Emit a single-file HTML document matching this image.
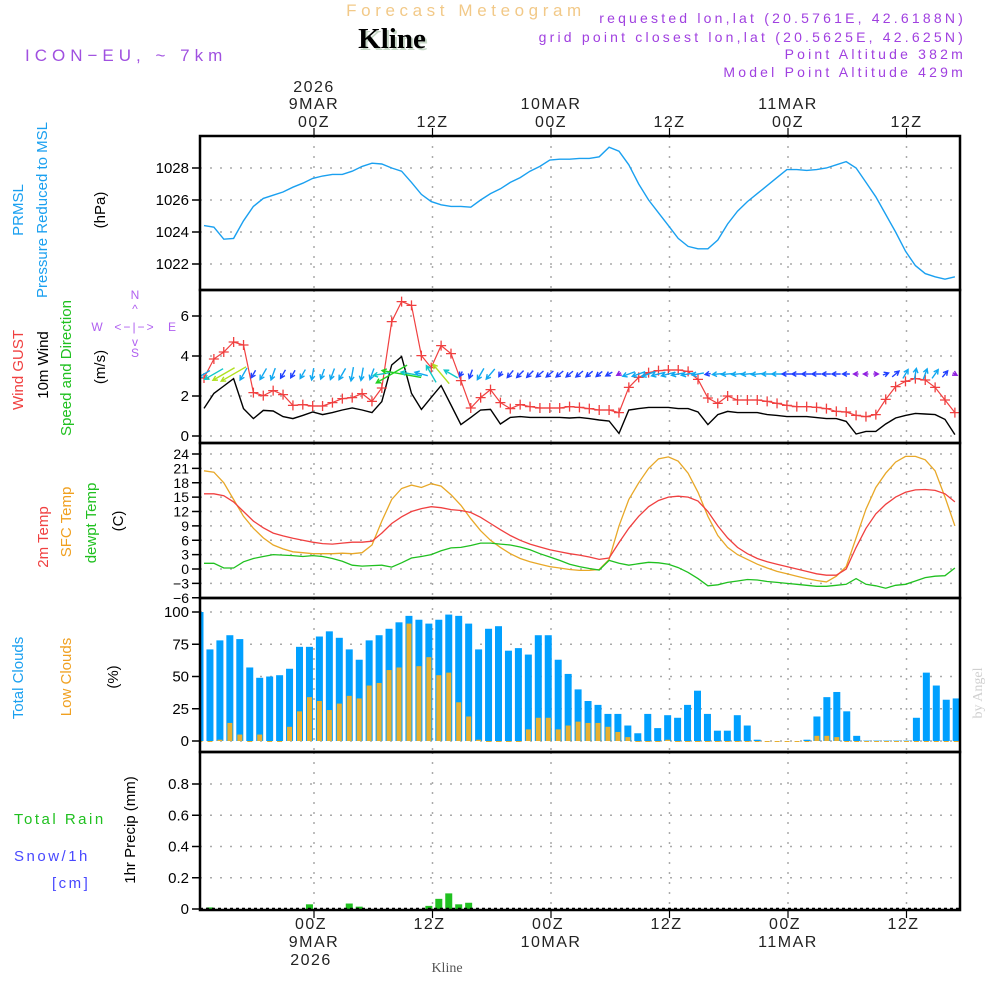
<!DOCTYPE html>
<html><head><meta charset="utf-8"><style>
html,body{margin:0;padding:0;background:#fff;}
svg{display:block;font-family:"Liberation Sans",sans-serif;}
</style></head><body>
<svg id="chart" width="1000" height="1000" viewBox="0 0 1000 1000" xmlns="http://www.w3.org/2000/svg">
<g>
<text x="466" y="16" text-anchor="middle" font-size="17" fill="#f2c988" letter-spacing="4.6">Forecast Meteogram</text>
<text x="394" y="50" text-anchor="middle" font-size="29" font-weight="bold" font-family="Liberation Serif,serif" fill="#c8d8c8">Kline</text>
<text x="392" y="48" text-anchor="middle" font-size="29" font-weight="bold" font-family="Liberation Serif,serif" fill="#000">Kline</text>
<text x="25" y="61" font-size="17" fill="#a050e0" letter-spacing="5">ICON−EU, ~ 7km</text>
<g font-size="14" fill="#a040e0" text-anchor="end" letter-spacing="3.2">
<text x="966" y="23">requested lon,lat (20.5761E, 42.6188N)</text>
<text x="966" y="42">grid point closest lon,lat (20.5625E, 42.625N)</text>
<text x="966" y="59">Point Altitude 382m</text>
<text x="966" y="77">Model Point Altitude 429m</text>
</g>
</g>
<g id="labels" font-size="15">
<text transform="translate(23,210) rotate(-90)" text-anchor="middle" fill="#1aa0f0">PRMSL</text>
<text transform="translate(47,210) rotate(-90)" text-anchor="middle" fill="#1aa0f0">Pressure Reduced to MSL</text>
<text transform="translate(105,210) rotate(-90)" text-anchor="middle" fill="#000">(hPa)</text>
<text transform="translate(23,370) rotate(-90)" text-anchor="middle" fill="#f04040">Wind GUST</text>
<text transform="translate(48,365) rotate(-90)" text-anchor="middle" fill="#000">10m Wind</text>
<text transform="translate(71,368) rotate(-90)" text-anchor="middle" fill="#20c020">Speed and Direction</text>
<text transform="translate(105,367) rotate(-90)" text-anchor="middle" fill="#000">(m/s)</text>
<text transform="translate(48,537) rotate(-90)" text-anchor="middle" fill="#f04040">2m Temp</text>
<text transform="translate(71,522) rotate(-90)" text-anchor="middle" fill="#f0a020">SFC Temp</text>
<text transform="translate(96,523) rotate(-90)" text-anchor="middle" fill="#20c020">dewpt Temp</text>
<text transform="translate(123,521) rotate(-90)" text-anchor="middle" fill="#000">(C)</text>
<text transform="translate(23,678) rotate(-90)" text-anchor="middle" fill="#1aa0f0">Total Clouds</text>
<text transform="translate(71,677) rotate(-90)" text-anchor="middle" fill="#f0a020">Low Clouds</text>
<text transform="translate(118,677) rotate(-90)" text-anchor="middle" fill="#000">(%)</text>
<text x="14" y="824" fill="#20c020" letter-spacing="2.5">Total   Rain</text>
<text x="14" y="861" fill="#4848ff" letter-spacing="2.5">Snow/1h</text>
<text x="52" y="888" fill="#4848ff" letter-spacing="2.5">[cm]</text>
<text transform="translate(135,830) rotate(-90)" text-anchor="middle" fill="#000">1hr Precip (mm)</text>
<g fill="#b060f0" font-size="12">
<text x="135" y="299" text-anchor="middle">N</text>
<text x="135" y="357" text-anchor="middle">S</text>
<text x="97" y="331" text-anchor="middle">W</text>
<text x="172" y="331" text-anchor="middle">E</text>
<text x="135" y="331" text-anchor="middle" letter-spacing="2">&lt;−|−&gt;</text>
<text x="135" y="313" text-anchor="middle">^</text>
<text x="135" y="346" text-anchor="middle">v</text>
</g>
<text transform="translate(982,693) rotate(-90)" text-anchor="middle" fill="#d0d0d0" font-family="Liberation Serif,serif" font-size="14">by Angel</text>
<text x="447" y="972" text-anchor="middle" fill="#555" font-family="Liberation Serif,serif" font-size="14">Kline</text>
</g>
<g id="plot"></g>
</svg>
<script>
const timeTicks = ["00Z","12Z","00Z","12Z","00Z","12Z"];
const timeTickHours = [0,12,24,36,48,60];
const dateLabels = ["9MAR","","10MAR","","11MAR",""];
const pressure = [1024.4,1024.3,1023.55,1023.6,1024.7,1025.6,1026.1,1026.3,1026.5,1026.8,1027.05,1027.35,1027.5,1027.6,1027.6,1027.8,1028.1,1028.3,1028.25,1028.0,1027.8,1027.1,1026.35,1025.9,1025.7,1025.6,1025.6,1025.55,1026.0,1026.4,1026.7,1027.1,1027.4,1027.8,1028.1,1028.5,1028.55,1028.55,1028.6,1028.6,1028.7,1029.3,1029.05,1028.2,1027.0,1026.0,1025.2,1024.4,1023.6,1023.1,1022.95,1022.95,1023.5,1024.5,1025.3,1025.9,1026.4,1026.9,1027.4,1027.9,1027.9,1027.85,1027.9,1028.0,1028.2,1028.4,1028.0,1027.1,1026.2,1025.1,1024.0,1022.8,1021.9,1021.4,1021.2,1021.05,1021.2];
const gust = [2.9,3.85,4.2,4.7,4.55,2.17,2.02,2.27,2.07,1.53,1.57,1.5,1.5,1.67,1.87,1.92,2.12,1.73,2.4,5.72,6.72,6.53,4.02,3.42,4.52,4.12,2.77,1.4,1.92,2.32,1.67,1.37,1.57,1.47,1.4,1.4,1.4,1.47,1.43,1.37,1.3,1.3,1.17,2.43,2.93,3.17,3.27,3.3,3.3,3.23,2.83,1.9,1.63,2.0,1.8,1.8,1.8,1.73,1.63,1.53,1.47,1.47,1.43,1.37,1.23,1.2,1.03,0.97,1.07,1.83,2.47,2.73,2.87,2.8,2.43,1.8,1.17];
const wind10 = [1.38,2.13,2.5,2.87,1.37,0.87,1.28,1.25,0.97,0.87,1.03,1.2,1.07,1.17,1.3,1.4,1.3,1.17,1.72,3.55,3.97,2.13,1.33,1.93,2.52,1.55,0.57,0.93,1.3,1.33,0.6,0.93,0.97,0.93,0.93,0.93,0.93,0.9,0.93,0.87,0.8,0.75,0.13,1.3,1.37,1.43,1.43,1.43,1.37,1.37,1.2,0.57,1.07,1.23,1.17,1.17,1.17,1.07,1.03,0.97,0.97,0.97,0.92,0.87,0.87,0.73,0.1,0.23,0.23,0.6,0.9,1.03,1.13,1.1,1.07,0.83,0.07];
const windDir = [60,60,60,60,30,30,30,20,30,30,30,10,20,20,30,10,10,20,80,60,100,100,105,150,140,120,30,20,30,40,30,40,45,45,50,50,50,50,50,50,50,60,60,70,70,70,75,75,80,80,80,80,85,85,85,85,85,90,90,90,90,90,90,90,90,90,90,90,270,250,230,210,190,200,215,220,300];
const temp2m = [15.7,15.7,15.3,14,12,10,8.6,7.5,6.9,6.4,6,5.6,5.3,5.2,5.4,5.6,5.6,5.8,7.5,9.5,10.9,12,12.6,13,12.8,12.4,12.2,11.8,10.8,9.5,8.2,7,6,5.2,4.6,4,3.6,3.2,2.9,2.5,2,2.3,5.5,8.5,11,13,14.3,15,15.2,15,14.2,12,9,6.5,4.5,3.2,2.2,1.5,1,0.5,0,-0.5,-1,-1.3,-1.3,0,4.5,8.5,11.5,13.5,15,16,16.5,16.6,16.4,15.7,14];
const sfcTemp = [20.5,20.2,18,14.5,11,8.5,6.5,5,4.2,3.6,3.4,3.2,3.2,3.2,3.3,3.2,3.4,5,10,14.5,16.8,17.5,17,17.8,17.3,15.5,13.3,10.5,8,6,4.5,3.2,2.2,1.5,1,0.5,0.2,-0.1,-0.3,-0.3,-0.1,2,9,14.5,18,21,23,23.4,22.5,20,16,11,7,4.5,3,2,1,0.2,-0.5,-1,-1.5,-2,-2.4,-2.7,-1.5,0.5,6.5,12.5,17,20,22.3,23.5,23.5,22.8,20.5,15,9];
const dewpt = [1.2,1.2,0.2,0.2,1.5,2.2,2.6,3,2.9,2.8,2.6,2.8,2.6,2.2,1.6,0.8,0.6,0.7,0.8,0.4,1.3,2.3,2.6,3,3.8,4.4,4.5,4.9,5.4,5.4,5.2,5,4.6,4,3.2,2.5,1.8,1,0.5,0.1,-0.2,1.8,1.2,0.8,1.1,1.4,1.3,1,0.3,-0.7,-2,-3.5,-3.3,-2.8,-2.5,-2.2,-2.3,-2.6,-2.8,-3,-3.2,-3.4,-3.6,-3.6,-3.4,-3.2,-2,-3.2,-3.5,-4,-3.4,-3.2,-2.5,-1.8,-1.5,-1.4,0.2];
const totalClouds = [100,71,78,82,79,57,49,50,51,56,73,73,81,85,80,71,63,78,82,87,92,97,94,91,94,98,97,91,71,87,89,70,72,67,82,82,63,52,40,31,28,21,21,12,6,21,10,20,18,28,39,21,8,8,20,12,1,0,0,0,0,1,19,34,38,23,4,0.3,0.3,0.3,0.3,0.3,18,53,43,32,33];
const lowClouds = [0,0,1,14,5,0,5,0,0,11,23,34,31,24,29,35,33,43,45,55,57,91,58,65,51,53,30,19,1,0,0,0,0,9,18,18,9,12,15,14,14,11,7,3,0,0,0,1,0,0,0,0,0,0,0,0,0,0,0,0,0,0,4,4,3,0,0,0,0,0,0,0,0,0,0,0,0];
const precip = [0,0.01,0,0,0,0,0,0,0,0,0,0.03,0,0,0,0.035,0.015,0,0,0,0,0,0,0.02,0.065,0.1,0.03,0.04,0,0,0,0,0,0,0,0,0,0,0,0,0,0,0,0,0,0,0,0,0,0,0,0,0,0,0,0,0,0,0,0,0,0,0,0,0,0,0,0,0,0,0,0,0,0,0,0,0];
const pressTicks = [1022,1024,1026,1028];
const windTicks = [0,2,4,6];
const tempTicks = [-6,-3,0,3,6,9,12,15,18,21,24];
const cloudTicks = [0,25,50,75,100];
const precipTicks = [0,0.2,0.4,0.6,0.8];

const NS="http://www.w3.org/2000/svg";
const plot=document.getElementById('plot');
const X0=200,X1=960;
const xHour=h=>314+h*9.875;
const xLine=k=>204+k*9.88;
const xBar=i=>200+i*9.95;
const lin=(d0,d1,r0,r1)=>v=>r0+(v-d0)*(r1-r0)/(d1-d0);
const yP=lin(1022,1028,264,168), yW=lin(0,6,436,316), yT=lin(0,24,569,454), yC=lin(0,100,741,612), yR=lin(0,0.8,909,784);
function mk(tag,attrs,parent){const e=document.createElementNS(NS,tag);for(const k in attrs)e.setAttribute(k,attrs[k]);(parent||plot).appendChild(e);return e;}
const panels=[[136,290,'pressure-panel'],[290,443,'wind-panel'],[443,598,'temperature-panel'],[598,752,'cloud-panel'],[752,910,'precip-panel']];
function grid(ticks,ys,top,bot,name,fmt,fs){
  const g=mk('g',{});
  
  
  ticks.forEach(t=>{const y=ys(t);
    if(y>top+3&&y<bot-3) mk('line',{x1:X0,x2:X1,y1:y,y2:y,stroke:'#aaa','stroke-width':1.5,'stroke-dasharray':'2,8'},g);
    mk('line',{x1:X0-8,x2:X0,y1:y,y2:y,stroke:'#000','stroke-width':1.5},g);
    const tx=mk('text',{x:X0-11,y:y+5,'text-anchor':'end','font-size':fs||15,fill:'#000'},g);tx.textContent=fmt?fmt(t):t;});
  timeTickHours.forEach(h=>mk('line',{x1:xHour(h),x2:xHour(h),y1:top,y2:bot,stroke:'#aaa','stroke-width':1.5,'stroke-dasharray':'2,8'},g));
}
grid(pressTicks,yP,136,290,'pressure');
grid(windTicks,yW,290,443,'wind');
grid(tempTicks,yT,443,598,'temperature',t=>t<0?'−'+(-t):t,14);
grid(cloudTicks,yC,598,752,'cloud');
grid(precipTicks,yR,752,910,'precip',t=>t===0?'0':t.toFixed(1));
function line(vals,xf,yf,color,name,w){const p=mk('polyline',{points:vals.map((v,i)=>xf(i).toFixed(1)+','+yf(v).toFixed(1)).join(' '),fill:'none',stroke:color,'stroke-width':w||1.3});
  
  return p;}
const defs=mk('defs',{});const cp=mk('clipPath',{id:'cp'},defs);mk('rect',{x:X0,y:136,width:X1-X0,height:774},cp);
const cg=mk('g',{'clip-path':'url(#cp)'});
function lineC(vals,xf,yf,color,name,w){const p=line(vals,xf,yf,color,name,w);cg.appendChild(p);return p;}
lineC(pressure,xLine,yP,'#1aa0f0','pressure-line',1.4);
totalClouds.forEach((v,i)=>{const r=mk('rect',{x:xBar(i)-3.5,y:yC(v),width:7,height:yC(0)-yC(v),fill:'#00a0ff'},cg);
  
  });
lowClouds.forEach((v,i)=>{const r=mk('rect',{x:xBar(i)-2.5,y:yC(v),width:5,height:Math.max(1,yC(0)-yC(v)),fill:'#e8b030'},cg);
  
  });
precip.forEach((v,i)=>{if(v<=0)return;const r=mk('rect',{x:xBar(i)-3.5,y:yR(v),width:7,height:yR(0)-yR(v),fill:'#20c020'},cg);
  
  });
mk('line',{x1:X0,x2:X1,y1:908.5,y2:908.5,stroke:'#000','stroke-width':1.5,'stroke-dasharray':'3,3'},cg);
lineC(sfcTemp,xLine,yT,'#e8a828','sfc-temp-line',1.3);
lineC(temp2m,xLine,yT,'#f04040','temp-2m-line',1.3);
lineC(dewpt,xLine,yT,'#20c020','dewpt-line',1.3);
lineC(wind10,xLine,yW,'#000','wind-10m-line',1.4);
lineC(gust,xLine,yW,'#f04040','gust-line',1.2);
gust.forEach((v,i)=>{const x=xLine(i),y=yW(v);const p=mk('path',{d:`M${x-5},${y}H${x+5}M${x},${y-5}V${y+5}`,stroke:'#f04040','stroke-width':1.3},cg);
  
  });
function wcol(s){if(s<0.4)return '#9020e0';if(s<1)return '#2040ff';if(s<1.5)return '#10a8f0';if(s<2.3)return '#10c8c8';if(s<3)return '#b0e020';return '#20d020';}
windDir.forEach((d,i)=>{const s=wind10[i];const L=Math.max(5,s*10);const a=(d+180)*Math.PI/180;
  const dx=Math.sin(a),dy=-Math.cos(a);const cx=xLine(i),cy=374;
  const x1=cx-dx*L/2,y1=cy-dy*L/2,x2=cx+dx*L/2,y2=cy+dy*L/2;
  const hx=-dx*5,hy=-dy*5;const c=wcol(s);
  const ca=Math.cos(0.5),sa=Math.sin(0.5);
  const p=mk('path',{d:`M${x1},${y1}L${x2},${y2}M${x2+hx*ca-hy*sa},${y2+hx*sa+hy*ca}L${x2},${y2}L${x2+hx*ca+hy*sa},${y2-hx*sa+hy*ca}`,stroke:c,'stroke-width':1.4,fill:'none'},cg);
  
  });
panels.forEach(([t,b,n])=>{const r=mk('rect',{x:X0,y:t,width:X1-X0,height:b-t,fill:'none',stroke:'#000','stroke-width':2.5});
  
  });
const ta=mk('g',{'font-size':16,fill:'#222','text-anchor':'middle','letter-spacing':'1.5'});


timeTickHours.forEach((h,i)=>{const x=xHour(h);
  mk('line',{x1:x,x2:x,y1:128,y2:136,stroke:'#000','stroke-width':1.2},ta);
  mk('line',{x1:x,x2:x,y1:910,y2:918,stroke:'#000','stroke-width':1.2},ta);
  let t=mk('text',{x:x,y:127},ta);t.textContent=timeTicks[i];
  t=mk('text',{x:x-3,y:929},ta);t.textContent=timeTicks[i];
  if(dateLabels[i]){t=mk('text',{x:x,y:109},ta);t.textContent=dateLabels[i];
    t=mk('text',{x:x,y:947},ta);t.textContent=dateLabels[i];}
  if(i===0){t=mk('text',{x:x,y:92},ta);t.textContent='2026';t=mk('text',{x:x-3,y:965},ta);t.textContent='2026';}
});
</script>
</body></html>
